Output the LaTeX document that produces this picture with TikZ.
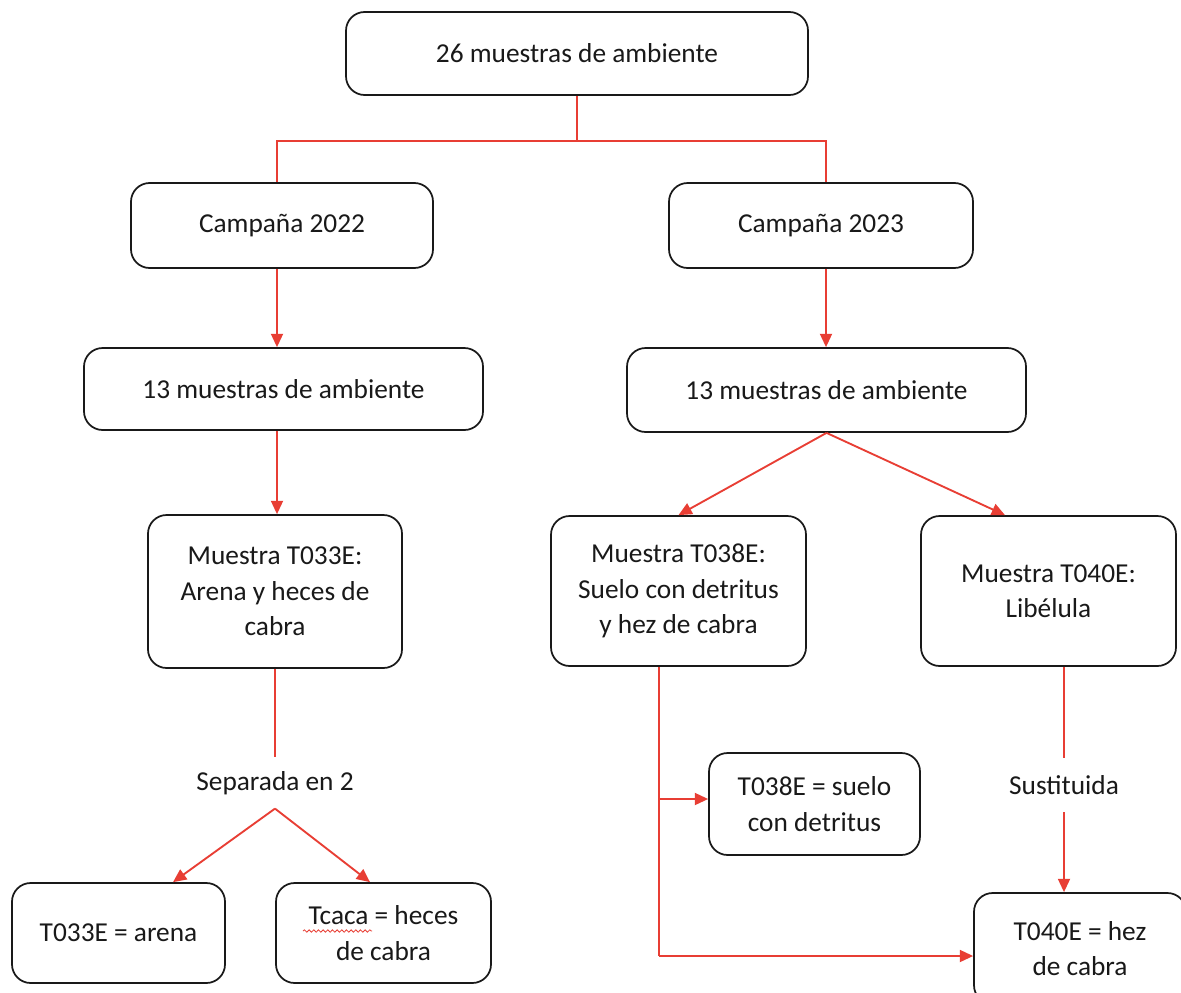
\documentclass[tikz,border=0pt]{standalone}
\usepackage{fontspec}
\setmainfont{Carlito}
\usetikzlibrary{arrows.meta,calc,decorations.pathmorphing}
\definecolor{lnred}{RGB}{232,62,52}
\definecolor{txt}{RGB}{25,25,25}
\tikzset{
  box/.style={draw=black!90, line width=1.3pt, rounded corners=14pt, align=center,
    inner sep=2pt, text=txt, font=\fontsize{20.5}{26.5}\selectfont},
  lbl/.style={inner sep=0pt, text=txt, font=\fontsize{20.5}{26.5}\selectfont},
  conn/.style={draw=lnred, line width=1.4pt},
  arr/.style={conn, -{Triangle[length=10pt,width=9pt]}},
}
\begin{document}
\begin{tikzpicture}[x=0.75pt,y=-0.75pt]
\useasboundingbox (0,0) rectangle (1181,992);
\clip (0,0) rectangle (1181,992);
\fill[white] (0,0) rectangle (1181,992);

\node[box, minimum width=346.5pt, minimum height=62.25pt] (top) at (577,53.5) {26 muestras de ambiente};
\node[box, minimum width=226.5pt, minimum height=63.75pt] (c22) at (282,225.5) {Campaña 2022};
\node[box, minimum width=228pt, minimum height=63.75pt] (c23) at (821,225.5) {Campaña 2023};
\node[box, minimum width=299.25pt, minimum height=61.5pt] (l13) at (283.5,389) {13 muestras de ambiente};
\node[box, minimum width=299.25pt, minimum height=63pt] (r13) at (826.5,390) {13 muestras de ambiente};
\node[box, minimum width=190.5pt, minimum height=114.75pt] (t33) at (275,591.5) {Muestra T033E:\\Arena y heces de\\cabra};
\node[box, minimum width=191.25pt, minimum height=112.5pt] (t38) at (678.5,591) {Muestra T038E:\\Suelo con detritus\\y hez de cabra};
\node[box, minimum width=191.25pt, minimum height=112.5pt] (t40) at (1048.5,591) {Muestra T040E:\\Libélula};
\node[lbl, minimum height=38pt] (sep) at (275,783) {Separada en 2};
\node[lbl, minimum height=40.5pt] (sust) at (1064,785) {Sustituida};
\node[box, minimum width=159.75pt, minimum height=75pt] (arena) at (118.5,933) {T033E = arena};
\node[box, minimum width=161.25pt, minimum height=75pt] (tcaca) at (383.5,933) {Tcaca = heces\\de cabra};
\node[box, minimum width=158.25pt, minimum height=76.5pt] (suelo) at (814.5,804) {T038E = suelo\\con detritus};
\node[box, minimum width=159pt, minimum height=83.25pt] (hez) at (1080,948.5) {T040E = hez\\de cabra};

% top split
\coordinate (split) at ($(top.south)+(0,45)$);
\draw[conn] (top.south) -- (split);
\draw[conn] (split) -| ($(c22.north)+(-5,0)$);
\draw[conn] (split) -| ($(c23.north)+(5,0)$);
% campaigns to 13
\draw[arr] ($(c22.south)+(-5,0)$) -- ($(c22.south |- l13.north)+(-5,0)$);
\draw[arr] ($(c23.south)+(5,0)$) -- ($(c23.south |- r13.north)+(5,0)$);
% left branch
\draw[arr] ($(t33.north |- l13.south)+(2,0)$) -- ($(t33.north)+(2,0)$);
\draw[conn] (t33.south) -- (sep.north);
\draw[arr] (sep.south) -- ($(arena.north)+(54.5,0)$);
\draw[arr] (sep.south) -- ($(tcaca.north)+(-13.5,0)$);
% right branch
\draw[arr] (r13.south) -- (t38.north);
\draw[arr] (r13.south) -- ($(t40.north)+(-43.5,0)$);
\coordinate (v) at ($(t38.south)+(-19.5,0)$);
\coordinate (vb) at ($(v |- hez.west)+(0,7.5)$);
\draw[conn] (v) -- (vb);
\draw[arr] (vb) -- ($(hez.west)+(0,7.5)$);
\draw[arr] ($(v |- suelo.west)+(0,-5)$) -- ($(suelo.west)+(0,-5)$);
\draw[conn] (sust.north |- t40.south) -- (sust.north);
\draw[arr] (sust.south) -- (sust.south |- hez.north);
% spell-check squiggle
\draw[lnred, line width=0.6pt, decorate, decoration={snake, amplitude=0.9pt, segment length=3.5pt}]
  ($(tcaca.center)+(-80.5,-2)$) -- ($(tcaca.center)+(-11.5,-2)$);
\end{tikzpicture}
\end{document}
